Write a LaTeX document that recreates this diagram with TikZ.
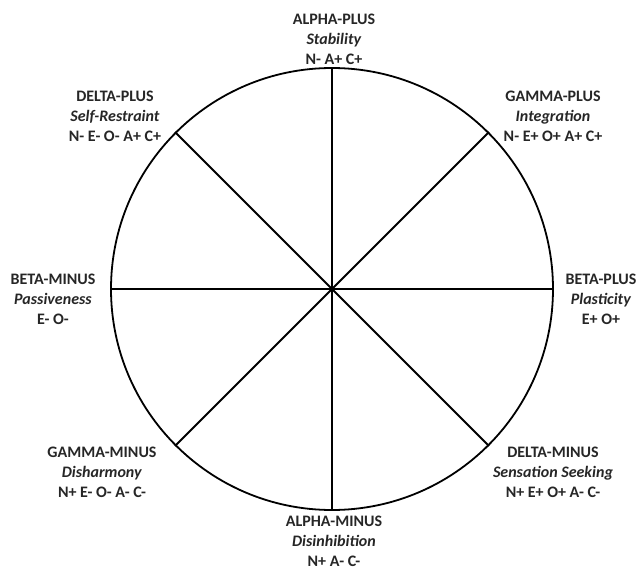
\documentclass[tikz,border=0pt]{standalone}
\usepackage{fontspec}
\setmainfont{Carlito}
\usepackage{tikz}
\usetikzlibrary{positioning}
\newcommand{\trait}[3]{\textbf{#1}\\\textbf{\textit{#2}}\\\textbf{#3}}

\begin{document}
\begin{tikzpicture}[x=1pt, y=-1pt, line width=1.8pt,
    wheelbox/.style={circle, draw, minimum size=442pt, inner sep=0pt},
    factor/.style={align=center, text=black!85,
      font=\fontsize{16}{20}\selectfont}]
  \useasboundingbox (0,0) rectangle (638,570);

  % The wheel and its spokes
  \node[wheelbox] (wheel) at (332,289) {};
  \foreach \ang in {0,45,...,315}
    \draw (wheel.center) -- (wheel.\ang);

  % Top and bottom
  \node[factor] (alpha-plus) at (334,39)
    {\trait{ALPHA-PLUS}{Stability}{N- A+ C+}};
  \node[factor] (alpha-minus) at (334,541)
    {\trait{ALPHA-MINUS}{Disinhibition}{N+ A- C-}};

  % Left and right
  \node[factor] (beta-minus) at (53,299)
    {\trait{BETA-MINUS}{Passiveness}{E- O-}};
  \node[factor] (beta-plus) at (601,299)
    {\trait{BETA-PLUS}{Plasticity}{E+ O+}};

  % Upper diagonals
  \node[factor] (delta-plus) at (115,116)
    {\trait{DELTA-PLUS}{Self-Restraint}{N- E- O- A+ C+}};
  \node[factor] (gamma-plus) at (553,116)
    {\trait{GAMMA-PLUS}{Integration}{N- E+ O+ A+ C+}};

  % Lower diagonals
  \node[factor] (gamma-minus) at (102,472)
    {\trait{GAMMA-MINUS}{Disharmony}{N+ E- O- A- C-}};
  \node[factor] (delta-minus) at (553,472)
    {\trait{DELTA-MINUS}{Sensation Seeking}{N+ E+ O+ A- C-}};
\end{tikzpicture}
\end{document}
